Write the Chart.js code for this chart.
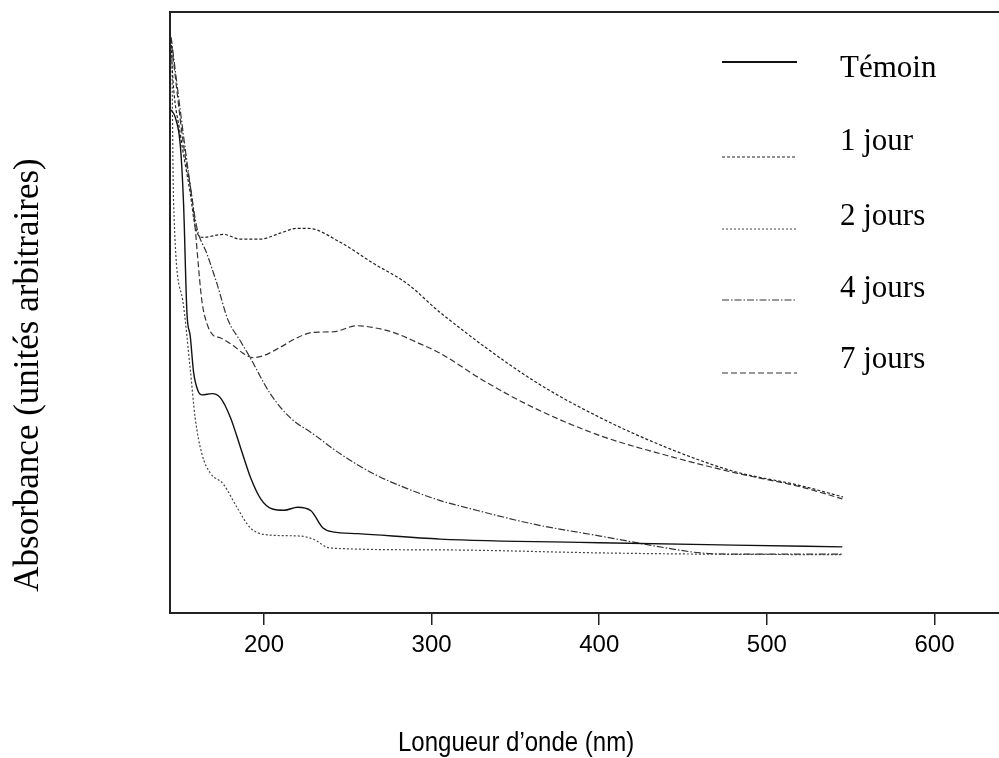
<!DOCTYPE html>
<html>
<head>
<meta charset="utf-8">
<script src="https://cdn.jsdelivr.net/npm/chart.js@4/dist/chart.umd.min.js"></script>
<style>
  body { margin: 0; background: #fff; }
  #wrap { width: 999px; height: 758px; }
</style>
</head>
<body>
<div id="wrap"><canvas id="spectre"></canvas></div>
<script>
// longueurs d'onde (nm) et absorbances (unités arbitraires)
const temoinX = [144.6, 147, 150, 152, 154, 156, 158, 160.6, 163, 169, 174, 180, 186, 192, 198, 205, 212, 220, 228, 235, 241, 256, 305, 400, 480, 545];
const temoinY = [83.7, 82.5, 78, 68, 50, 46, 40, 37, 36.3, 36.5, 35.8, 32.5, 27.5, 22.5, 19, 17.3, 17.1, 17.6, 17, 14.2, 13.5, 13.2, 12.3, 11.7, 11.3, 11];

const jour1X = [144.6, 145.2, 150, 156, 159, 163.7, 175.8, 185.8, 197.7, 209.6, 219.8, 226.3, 245.4, 265.1, 285.4, 305.1, 360.6, 400.6, 440.5, 479.9, 519.9, 545.5];
const jour1Y = [95.3, 90.8, 79.8, 69.8, 64.2, 62.5, 63, 62.2, 62.2, 63.2, 64, 64, 61.7, 58.2, 54.8, 50, 38.7, 32.5, 27.5, 23.6, 21.2, 19.3];

const jour2X = [145, 146, 151.5, 155.9, 158.9, 162.9, 167.9, 175.6, 184, 191.7, 201.9, 221.6, 229.3, 239.5, 305.1, 400.6, 460.2, 545];
const jour2Y = [94.2, 68.7, 52, 40.8, 32.5, 26.5, 23.3, 21.5, 17.5, 14.2, 13, 12.8, 12.3, 10.8, 10.5, 10, 9.8, 9.7];

const jour4X = [144.6, 150, 154.7, 159.9, 165.9, 171.9, 178.6, 185.8, 191.7, 203.7, 215.6, 229.3, 245.4, 265.1, 285.4, 305.1, 321.2, 360.6, 400.6, 440.5, 460.2, 479.9, 545];
const jour4Y = [95.8, 83.7, 73.7, 64.2, 59.8, 54.8, 48.7, 45.3, 42.5, 36.5, 32.5, 29.8, 26.5, 23.2, 20.7, 18.7, 17.5, 14.8, 12.8, 10.8, 10, 9.8, 9.8];

const jour7X = [145, 151.8, 157.7, 162.9, 165.9, 169.7, 173.8, 181.6, 187.6, 193.5, 199.5, 209.6, 219.8, 229.3, 241.3, 255.6, 265.1, 277.1, 291.4, 305.1, 330.8, 360.6, 400.6, 440.5, 479.9, 519.9, 545];
const jour7Y = [94.2, 78.2, 67.5, 52, 48.2, 46.2, 45.8, 44.5, 43.2, 42.5, 42.8, 44.2, 45.8, 46.7, 46.8, 47.8, 47.5, 46.7, 45, 43.2, 38.7, 34.2, 29.5, 26.2, 23.4, 21.0, 19.0];

const legendLabels = ['Témoin', '1 jour', '2 jours', '4 jours', '7 jours'];
const xTicks = [200, 300, 400, 500, 600];
const xTitle = 'Longueur d’onde (nm)';
const yTitle = 'Absorbance (unités arbitraires)';

const pts = (xs, ys) => xs.map((x, i) => ({ x: x, y: ys[i] }));

// cadre ouvert à droite, comme sur l'original
const cadre = {
  id: 'cadre',
  afterDraw(chart) {
    const { ctx, chartArea: a } = chart;
    ctx.save();
    ctx.strokeStyle = '#222';
    ctx.lineWidth = 2;
    ctx.beginPath();
    ctx.moveTo(a.right, a.top);
    ctx.lineTo(a.left, a.top);
    ctx.lineTo(a.left, a.bottom);
    ctx.lineTo(a.right, a.bottom);
    ctx.stroke();
    ctx.restore();
  }
};

// légende à droite + titres des axes
const legende = {
  id: 'legende',
  afterDraw(chart) {
    const ctx = chart.ctx;
    const lignes = [62, 157, 229, 300, 373];
    const bases = [77, 150, 225, 297, 368];
    ctx.save();
    chart.data.datasets.forEach((ds, i) => {
      ctx.strokeStyle = ds.borderColor;
      ctx.lineWidth = i === 0 ? 2 : 1.2;
      ctx.setLineDash(ds.borderDash || []);
      ctx.beginPath();
      ctx.moveTo(722, lignes[i]);
      ctx.lineTo(797, lignes[i]);
      ctx.stroke();
      ctx.setLineDash([]);
      ctx.fillStyle = '#000';
      ctx.font = '31px "Liberation Serif", "Times New Roman", serif';
      ctx.textBaseline = 'alphabetic';
      ctx.textAlign = 'left';
      ctx.fillText(ds.label, 840, bases[i]);
    });
    ctx.restore();

    // titre horizontal, un peu étiré en hauteur comme l'original
    ctx.save();
    ctx.fillStyle = '#000';
    ctx.font = '24px "Liberation Sans", Arial, sans-serif';
    ctx.textAlign = 'left';
    ctx.textBaseline = 'alphabetic';
    ctx.translate(398, 751);
    ctx.scale(1, 1.15);
    ctx.fillText(xTitle, 0, 0);
    ctx.restore();

    ctx.save();
    ctx.fillStyle = '#000';
    ctx.translate(38, 375);
    ctx.rotate(-Math.PI / 2);
    ctx.font = '35px "Liberation Serif", "Times New Roman", serif';
    ctx.textAlign = 'center';
    ctx.textBaseline = 'alphabetic';
    ctx.fillText(yTitle, 0, 0);
    ctx.restore();
  }
};

new Chart(document.getElementById('spectre'), {
  type: 'line',
  data: {
    datasets: [
      { label: legendLabels[0], data: pts(temoinX, temoinY), borderColor: '#111', borderWidth: 1.4 },
      { label: legendLabels[1], data: pts(jour1X, jour1Y), borderColor: '#222', borderWidth: 1.2, borderDash: [3, 2] },
      { label: legendLabels[2], data: pts(jour2X, jour2Y), borderColor: '#444', borderWidth: 1.2, borderDash: [2, 2] },
      { label: legendLabels[3], data: pts(jour4X, jour4Y), borderColor: '#333', borderWidth: 1.2, borderDash: [7, 2, 1.5, 2] },
      { label: legendLabels[4], data: pts(jour7X, jour7Y), borderColor: '#333', borderWidth: 1.2, borderDash: [6, 3] }
    ]
  },
  options: {
    responsive: true,
    maintainAspectRatio: false,
    animation: false,
    layout: { padding: { top: 12, right: 0, bottom: 0, left: 0 } },
    elements: {
      point: { radius: 0 },
      line: { cubicInterpolationMode: 'monotone', fill: false }
    },
    plugins: {
      legend: { display: false },
      tooltip: { enabled: false }
    },
    scales: {
      x: {
        type: 'linear',
        min: 143.9,
        max: 638.5,
        afterFit: s => { s.height = 145; },
        afterBuildTicks: s => { s.ticks = xTicks.map(v => ({ value: v })); },
        border: { display: false },
        grid: { drawOnChartArea: false, drawTicks: true, tickLength: 12, color: '#222', lineWidth: 1.5 },
        ticks: {
          color: '#000',
          padding: 6,
          maxRotation: 0,
          font: { family: '"Liberation Sans", Arial, sans-serif', size: 24 }
        }
      },
      y: {
        min: 0,
        max: 100,
        afterFit: s => { s.width = 170; },
        border: { display: false },
        grid: { display: false },
        ticks: { display: false }
      }
    }
  },
  plugins: [cadre, legende]
});
</script>
</body>
</html>
